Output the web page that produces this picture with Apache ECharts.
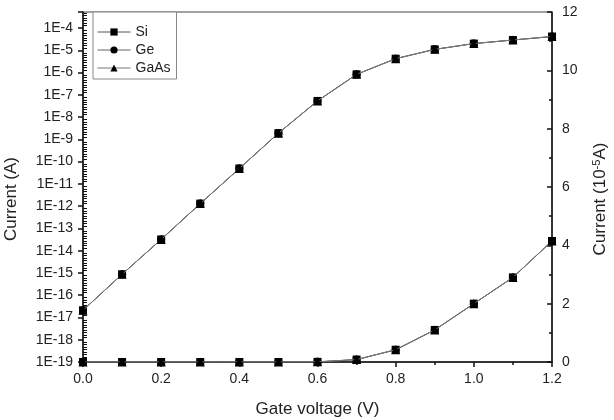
<!DOCTYPE html>
<html>
<head>
<meta charset="utf-8">
<script src="https://cdn.jsdelivr.net/npm/echarts@6/dist/echarts.min.js"></script>
<style>
html,body{margin:0;padding:0;background:#fff;}
#chart{width:614px;height:420px;}
</style>
</head>
<body>
<div id="chart"></div>
<script>
// Gate voltage (V)
const gateVoltage = [0.0, 0.1, 0.2, 0.3, 0.4, 0.5, 0.6, 0.7, 0.8, 0.9, 1.0, 1.1, 1.2];
// Current (A)
const siCurrent   = [2.1e-17, 8.7e-16, 3.2e-14, 1.3e-12, 4.9e-11, 1.9e-9, 5.3e-8, 8.3e-7, 4.2e-6, 1.1e-5, 2.0e-5, 2.9e-5, 4.15e-5];
const geCurrent   = [2.1e-17, 8.7e-16, 3.2e-14, 1.3e-12, 4.9e-11, 1.9e-9, 5.3e-8, 8.3e-7, 4.2e-6, 1.1e-5, 2.0e-5, 2.9e-5, 4.15e-5];
const gaasCurrent = [2.1e-17, 8.7e-16, 3.2e-14, 1.3e-12, 4.9e-11, 1.9e-9, 5.3e-8, 8.3e-7, 4.2e-6, 1.1e-5, 2.0e-5, 2.9e-5, 4.15e-5];
const seriesNames = ['Si', 'Ge', 'GaAs'];
const xTicks = [0.0, 0.2, 0.4, 0.6, 0.8, 1.0, 1.2];
const rightTicks = [0, 2, 4, 6, 8, 10, 12];

const LOG_MIN_EXP = -19;
const LOG_MAX_EXP = -3.28;
const UNIT = 1e-5;

const font = 'Liberation Sans, Arial, sans-serif';
const symbols = [{s:'rect', z:8}, {s:'circle', z:8}, {s:'triangle', z:9}];
const dataSets = [siCurrent, geCurrent, gaasCurrent];
const lineColors = ['#555', '#666', '#777'];

const series = [];
dataSets.forEach((arr, i) => {
  series.push({
    name: seriesNames[i], type: 'line', xAxisIndex: 0, yAxisIndex: 0,
    data: gateVoltage.map((x, k) => [x, Math.log10(arr[k])]),
    symbol: symbols[i].s, symbolSize: symbols[i].z, showSymbol: true,
    itemStyle: {color: '#000'},
    lineStyle: {color: lineColors[i], width: 1},
    z: 3 + i
  });
  series.push({
    name: seriesNames[i], type: 'line', xAxisIndex: 0, yAxisIndex: 1,
    data: gateVoltage.map((x, k) => [x, arr[k] / UNIT]),
    symbol: symbols[i].s, symbolSize: symbols[i].z, showSymbol: true,
    itemStyle: {color: '#000'},
    lineStyle: {color: lineColors[i], width: 1},
    z: 3 + i
  });
});

const chart = echarts.init(document.getElementById('chart'), null, {renderer: 'canvas'});
chart.setOption({
  animation: false,
  backgroundColor: '#fff',
  textStyle: {fontFamily: font},
  grid: {left: 83, right: 62, top: 12, bottom: 58, show: true, borderColor: '#444', borderWidth: 1,
         backgroundColor: 'transparent', containLabel: false, outerBoundsMode: 'none'},
  legend: {
    data: seriesNames, orient: 'vertical', left: 93, top: 12,
    padding: [13, 6, 4, 4], itemGap: 4, itemWidth: 33, itemHeight: 9,
    borderColor: '#888', borderWidth: 1, backgroundColor: '#fff',
    lineStyle: {width: 1},
    textStyle: {fontFamily: font, fontSize: 14, color: '#222', lineHeight: 14}
  },
  xAxis: {
    type: 'value', min: 0, max: 1.2, interval: 0.2,
    name: 'Gate voltage (V)', nameLocation: 'middle', nameGap: 39,
    nameTextStyle: {fontFamily: font, fontSize: 17, color: '#222'},
    axisLine: {show: true, lineStyle: {color: '#111', width: 1.5}},
    axisTick: {show: true, inside: false, length: 5, lineStyle: {color: '#111', width: 1.5}},
    minorTick: {show: true, splitNumber: 2, length: 3, lineStyle: {color: '#111', width: 1.5}},
    splitLine: {show: false},
    axisLabel: {fontFamily: font, fontSize: 14, color: '#222', margin: 10, formatter: v => v.toFixed(1)}
  },
  yAxis: [
    {
      type: 'value', position: 'left', min: LOG_MIN_EXP, max: LOG_MAX_EXP, interval: 1,
      name: 'Current (A)', nameLocation: 'middle', nameGap: 63,
      nameTextStyle: {fontFamily: font, fontSize: 17, color: '#222', padding: [0, 24, 0, 0]},
      axisLine: {show: true, lineStyle: {color: '#111', width: 1.5}},
      axisTick: {show: true, inside: false, length: 5, lineStyle: {color: '#111', width: 1.5}},
      minorTick: {show: true, splitNumber: 9, length: -4, lineStyle: {color: '#111', width: 1}},
      splitLine: {show: false},
      axisLabel: {fontFamily: font, fontSize: 14, color: '#222', margin: 10,
        formatter: v => {
          const r = Math.round(v);
          return Math.abs(v - r) < 1e-6 ? '1E' + r : '';
        }}
    },
    {
      type: 'value', position: 'right', min: 0, max: 12, interval: 2,
      name: 'Current (10{sup|-5}A)', nameLocation: 'middle', nameGap: 39,
      nameTextStyle: {fontFamily: font, fontSize: 17, color: '#222', padding: [0, 24, 0, 0],
        rich: {sup: {fontFamily: font, fontSize: 11, color: '#222', verticalAlign: 'top', padding: [0, 0, 8, 0]}}},
      axisLine: {show: true, lineStyle: {color: '#111', width: 1.5}},
      axisTick: {show: true, inside: true, length: 5, lineStyle: {color: '#111', width: 1.5}},
      minorTick: {show: true, splitNumber: 2, length: 3, lineStyle: {color: '#111', width: 1.5}},
      splitLine: {show: false},
      axisLabel: {fontFamily: font, fontSize: 14, color: '#222', margin: 10}
    }
  ],
  series: series
});
</script>
</body>
</html>
